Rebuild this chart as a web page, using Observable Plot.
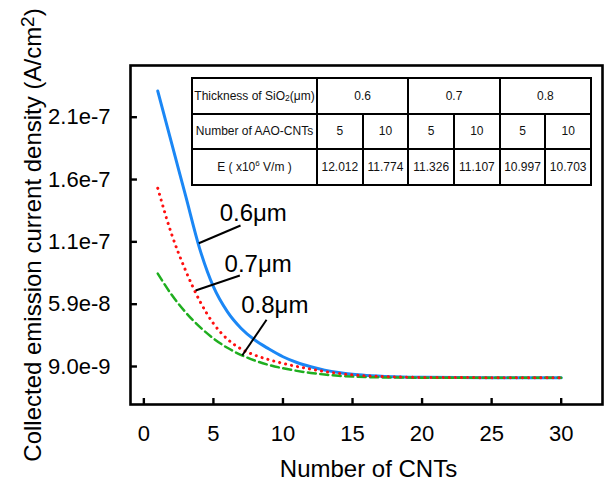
<!DOCTYPE html>
<html>
<head>
<meta charset="utf-8">
<script src="https://cdn.jsdelivr.net/npm/d3@7"></script>
<script src="https://cdn.jsdelivr.net/npm/@observablehq/plot@0.6"></script>
<style>
  html, body { margin: 0; padding: 0; background: #fff; }
  #wrap { position: relative; width: 605px; height: 484px; overflow: hidden; font-family: "Liberation Sans", Arial, Helvetica, sans-serif; }
  #tbl { position: absolute; left: 191px; top: 77px; width: 401px; height: 109px; box-sizing: border-box;
         display: grid; grid-template-columns: 123px repeat(6, 1fr); grid-template-rows: repeat(3, 1fr);
         gap: 2px; padding: 2px; background: #000; }
  #tbl > div { background: #fff; display: flex; align-items: center; justify-content: center;
             font-size: 12px; color: #111; white-space: nowrap; }
  #tbl .span2 { grid-column: span 2; }
  #tbl sub { font-size: 8.5px; vertical-align: -1px; line-height: 0; }
  #tbl sup { font-size: 8px; vertical-align: 5px; line-height: 0; }
</style>
</head>
<body>
<div id="wrap"></div>
<script>
// ---- data ----
const xs = [1, 2, 3, 4, 5, 6, 7, 8, 9, 10, 11, 12, 13, 14, 15, 16, 18, 20, 25, 30];
const blue06 = [2.30e-7, 1.88e-7, 1.46e-7, 1.04e-7, 7.3e-8, 5.3e-8, 3.95e-8, 3.0e-8, 2.3e-8, 1.68e-8, 1.22e-8, 8.8e-9, 6.1e-9, 4.1e-9, 2.7e-9, 1.8e-9, 0.8e-9, 0.3e-9, 0.05e-9, 0];
const red07 = [1.52e-7, 1.15e-7, 8.6e-8, 6.2e-8, 4.35e-8, 3.1e-8, 2.3e-8, 1.8e-8, 1.44e-8, 1.15e-8, 9.0e-9, 6.9e-9, 5.0e-9, 3.5e-9, 2.3e-9, 1.5e-9, 0.6e-9, 0.25e-9, 0.05e-9, 0];
const green08 = [8.35e-8, 6.65e-8, 5.25e-8, 4.1e-8, 3.15e-8, 2.4e-8, 1.82e-8, 1.37e-8, 1.02e-8, 7.6e-9, 5.5e-9, 3.8e-9, 2.5e-9, 1.5e-9, 0.9e-9, 0.5e-9, 0.15e-9, 0.05e-9, 0, 0];

const xTicks = [0, 5, 10, 15, 20, 25, 30];
const yTicks = [9.0e-9, 5.9e-8, 1.09e-7, 1.59e-7, 2.09e-7];
const yTickLabels = ["9.0e-9", "5.9e-8", "1.1e-7", "1.6e-7", "2.1e-7"];
const xDomain = [-0.96, 32.97];
const yDomain = [-2.149e-8, 2.5048e-7];

const xTitle = "Number of CNTs";
const yTitle = "Collected emission current density (A/cm";

// annotation labels
const labels = ["0.6\u03bcm", "0.7\u03bcm", "0.8\u03bcm"];
const labelX = [5.45, 5.8, 7.0];
const labelY = [1.26e-7, 8.48e-8, 5.19e-8];
const leadFromX = [3.95, 3.72, 7.07];
const leadFromY = [1.079e-7, 7.0e-8, 1.78e-8];
const leadToX = [6.95, 6.9, 8.82];
const leadToY = [1.221e-7, 8.2e-8, 4.65e-8];

// inset table
const thicknessHeader = "Thickness of SiO<sub>2</sub>(\u03bcm)";
const thicknesses = ["0.6", "0.7", "0.8"];
const countHeader = "Number of AAO-CNTs";
const counts = ["5", "10", "5", "10", "5", "10"];
const fieldHeader = "E ( x10<sup>6</sup> V/m )";
const fields = ["12.012", "11.774", "11.326", "11.107", "10.997", "10.703"];

// ---- build ----
const rows = (ys) => xs.map((x, i) => ({x, y: ys[i]}));
const ann = labels.map((t, i) => ({t, lx: labelX[i], ly: labelY[i], x1: leadFromX[i], y1: leadFromY[i], x2: leadToX[i], y2: leadToY[i]}));
const yLab = new Map(yTicks.map((v, i) => [v, yTickLabels[i]]));
const font = "'Liberation Sans', Arial, Helvetica, sans-serif";

const chart = Plot.plot({
  width: 605, height: 484,
  marginLeft: 130, marginRight: 3, marginTop: 65, marginBottom: 80,
  style: {fontFamily: font, background: "white", color: "#000", overflow: "visible"},
  x: {domain: xDomain},
  y: {domain: yDomain},
  marks: [
    Plot.axisX({ticks: xTicks, tickSize: 0, tickPadding: 21, fontSize: 22, label: null}),
    Plot.axisY({ticks: yTicks, tickSize: 0, tickPadding: 20, fontSize: 22, label: null, tickFormat: d => yLab.get(d)}),
    Plot.ruleY(yTicks, {x1: xDomain[0], x2: xDomain[0] + 0.5, stroke: "#000", strokeWidth: 2.4}),
    Plot.ruleX(xTicks, {y1: yDomain[0], y2: yDomain[0] + 4.8e-9, stroke: "#000", strokeWidth: 2.4}),
    Plot.line(rows(blue06), {x: "x", y: "y", stroke: "#1b87f5", strokeWidth: 3, curve: "monotone-x"}),
    Plot.line(rows(green08), {x: "x", y: "y", stroke: "#1fae1f", strokeWidth: 2.5, strokeDasharray: "8,4.5", curve: "monotone-x"}),
    Plot.line(rows(red07), {x: "x", y: "y", stroke: "#ff1010", strokeWidth: 3, strokeDasharray: "0.1,6", strokeLinecap: "round", curve: "monotone-x"}),
    Plot.link(ann, {x1: "x1", y1: "y1", x2: "x2", y2: "y2", stroke: "#000", strokeWidth: 2}),
    Plot.text(ann, {x: "lx", y: "ly", text: "t", textAnchor: "start", lineAnchor: "bottom", fontSize: 24, fill: "#000"}),
    Plot.text([xTitle], {frameAnchor: "bottom", dx: 2, dy: 72.5, lineAnchor: "bottom", fontSize: 24, fill: "#000"}),
    Plot.frame({stroke: "#000", strokeWidth: 2.6})
  ]
});

const wrap = document.getElementById("wrap");
wrap.appendChild(chart);

// y-axis title with superscript
const yt = d3.select(chart).append("text")
  .attr("transform", "translate(41,235) rotate(-90)")
  .attr("text-anchor", "middle")
  .attr("font-family", font)
  .attr("font-size", 24)
  .attr("fill", "#000");
yt.append("tspan").text(yTitle);
yt.append("tspan").attr("dy", -7).attr("font-size", 19).text("2");
yt.append("tspan").attr("dy", 7).text(")");

// inset table
const tbl = document.createElement("div");
tbl.id = "tbl";
const cell = (content, cls) => `<div${cls ? ` class="${cls}"` : ""}><span>${content}</span></div>`;
let html = cell(thicknessHeader);
thicknesses.forEach(t => html += cell(t, "span2"));
html += cell(countHeader);
counts.forEach(c => html += cell(c));
html += cell(fieldHeader);
fields.forEach(f => html += cell(f));
tbl.innerHTML = html;
wrap.appendChild(tbl);
</script>
</body>
</html>
